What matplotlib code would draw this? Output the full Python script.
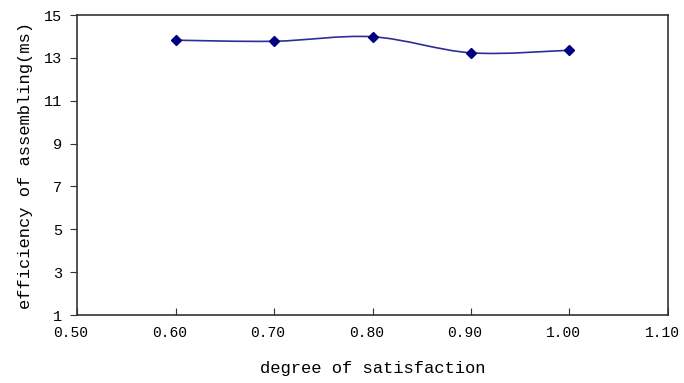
import numpy as np
import matplotlib.pyplot as plt
import matplotlib.transforms as mtransforms
from matplotlib.path import Path
from matplotlib.patches import PathPatch

# data
satisfaction = [0.60, 0.70, 0.80, 0.90, 1.00]
efficiency = [13.83, 13.78, 13.99, 13.24, 13.36]
x_ticks = [0.50, 0.60, 0.70, 0.80, 0.90, 1.00, 1.10]
y_ticks = [1, 3, 5, 7, 9, 11, 13, 15]

plt.rcParams['font.family'] = ['Liberation Mono', 'DejaVu Sans Mono']

fig = plt.figure(figsize=(6.84, 3.83), dpi=100)
ax = fig.add_axes([0.1126, 0.1775, 0.864, 0.783])

# smoothed line (Catmull-Rom style Bezier, like Excel's smoothed line)
x = np.array(satisfaction)
y = np.array(efficiency)
verts = [(x[0], y[0])]
codes = [Path.MOVETO]
n = len(x)
for i in range(n - 1):
    x0, y0 = (x[i - 1], y[i - 1]) if i > 0 else (x[i], y[i])
    x3, y3 = (x[i + 2], y[i + 2]) if i + 2 < n else (x[i + 1], y[i + 1])
    c1 = (x[i] + (x[i + 1] - x0) / 6, y[i] + (y[i + 1] - y0) / 6)
    c2 = (x[i + 1] - (x3 - x[i]) / 6, y[i + 1] - (y3 - y[i]) / 6)
    verts += [c1, c2, (x[i + 1], y[i + 1])]
    codes += [Path.CURVE4] * 3
ax.add_patch(PathPatch(Path(verts, codes), facecolor='none', edgecolor='#2e2e96', lw=1.2))
ax.plot(satisfaction, efficiency, linestyle='none', marker='D', markersize=5.5,
        color='#000080')

ax.set_xlim(0.50, 1.10)
ax.set_ylim(1, 15)
ax.set_xticks(x_ticks)
ax.set_xticklabels([f"{v:.2f}" for v in x_ticks])
ax.set_yticks(y_ticks)
ax.tick_params(axis='x', direction='in', length=5, labelsize=10.5, pad=8, color='#333333')
ax.tick_params(axis='y', direction='out', length=5, labelsize=11, pad=6, color='#333333')
for s in ax.spines.values():
    s.set_color('#333333')
    s.set_linewidth(1.2)

# x tick labels sit a little left of their ticks in the original
shift = mtransforms.ScaledTranslation(-0.06, 0, fig.dpi_scale_trans)
for lbl in ax.get_xticklabels():
    lbl.set_transform(lbl.get_transform() + shift)

ax.set_xlabel("degree of satisfaction", fontsize=12.3)
ax.set_ylabel("efficiency of assembling(ms)", fontsize=12.3)
ax.xaxis.set_label_coords(0.5, -0.177)
ax.yaxis.set_label_coords(-0.088, 0.5)
ax.xaxis.label.set_va('center')
ax.yaxis.label.set_va('center')

plt.savefig("out.png", dpi=100)
